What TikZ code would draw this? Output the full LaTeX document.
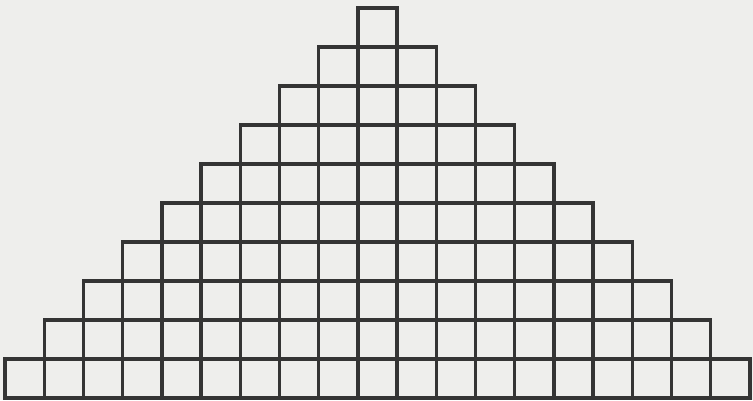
\documentclass[tikz,border=0pt]{standalone}
\usetikzlibrary{positioning}
\definecolor{ink}{HTML}{343434}
\definecolor{paper}{HTML}{EEEEEC}
\tikzset{
  cell/.style={draw=ink,line width=3.4pt,fill=none,minimum width=39.2pt,minimum height=39pt,inner sep=0pt,outer sep=0pt},
}

\begin{document}
\begin{tikzpicture}[x=1pt,y=1pt]
  % ── page ──
  \fill[paper] (0,0) rectangle (753,400);
  \useasboundingbox (0,0) rectangle (753,400);
  % ── rows of cells, bottom row first ──
  \foreach \r in {0,...,9}{
    \pgfmathtruncatemacro{\last}{18-2*\r}
    \foreach \c in {0,...,\last}{
      \node[cell] (cell-\r-\c) at ({5+(\r+\c+0.5)*39.2},{2+(\r+0.5)*39}) {};
    }
  }
\end{tikzpicture}
\end{document}
